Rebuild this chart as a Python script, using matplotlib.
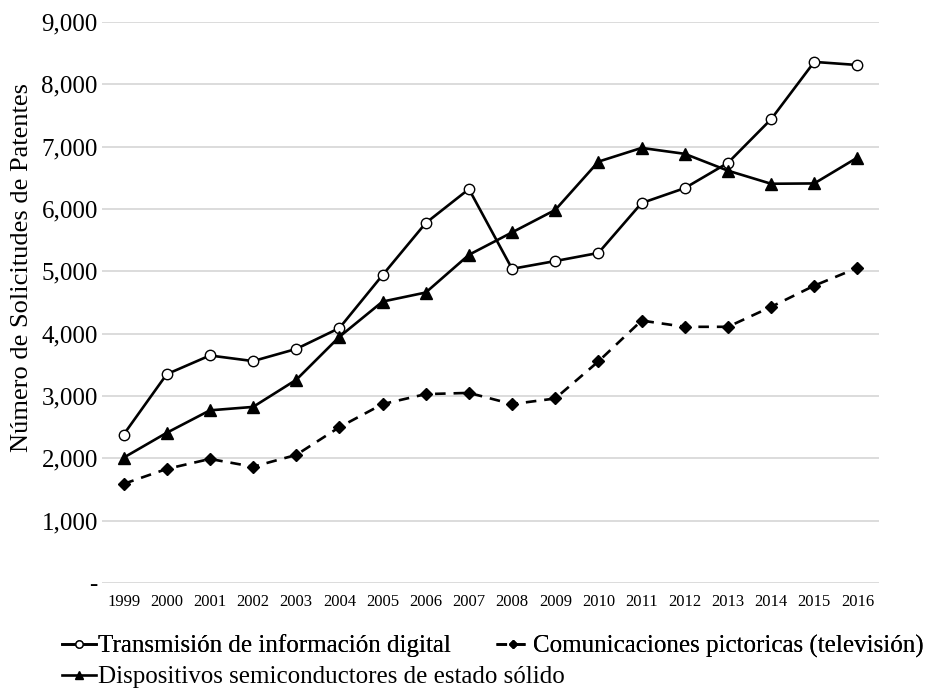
import matplotlib.pyplot as plt
from matplotlib.ticker import FuncFormatter

plt.rcParams["font.family"] = ["Liberation Serif", "DejaVu Serif"]

years = [1999, 2000, 2001, 2002, 2003, 2004, 2005, 2006, 2007,
         2008, 2009, 2010, 2011, 2012, 2013, 2014, 2015, 2016]

transmision = [2380, 3350, 3650, 3560, 3755, 4090, 4940, 5775, 6320,
               5040, 5165, 5295, 6095, 6335, 6740, 7440, 8360, 8310]

semiconductores = [2010, 2410, 2770, 2825, 3260, 3950, 4515, 4660, 5265,
                   5625, 5985, 6760, 6980, 6885, 6615, 6405, 6410, 6825]

television = [1590, 1830, 1990, 1865, 2055, 2500, 2870, 3030, 3050,
              2870, 2960, 3555, 4210, 4110, 4110, 4430, 4770, 5055]

labels = ["Transmisión de información digital",
          "Dispositivos semiconductores de estado sólido",
          "Comunicaciones pictoricas (televisión)"]

fig = plt.figure(figsize=(9.34, 6.91), dpi=100)
ax = fig.add_axes([102 / 934, 108 / 691, 777 / 934, 561 / 691])

x = list(range(len(years)))
l1, = ax.plot(x, transmision, color="black", linewidth=1.9, marker="o",
              markersize=7.5, markerfacecolor="white", markeredgecolor="black",
              markeredgewidth=1.0)
l2, = ax.plot(x, semiconductores, color="black", linewidth=1.9, marker="^",
              markersize=9)
l3, = ax.plot(x, television, color="black", linewidth=1.9, marker="D",
              markersize=6, linestyle=(0, (4, 3)))

ax.set_xlim(-0.5, len(years) - 0.5)
ax.set_ylim(0, 9000)
ax.set_yticks(range(0, 9001, 1000))
ax.yaxis.set_major_formatter(
    FuncFormatter(lambda v, p: "-" if v == 0 else f"{int(v):,}"))
ax.set_xticks(x)
ax.set_xticklabels([str(y) for y in years], fontsize=12)
ax.tick_params(axis="y", labelsize=18, length=0, pad=3)
ax.tick_params(axis="x", length=0, pad=8)
ax.grid(axis="y", color="#d9d9d9", linewidth=1.3)
ax.set_axisbelow(True)
for s in ax.spines.values():
    s.set_visible(False)

fig.text(22 / 934, 1 - 268 / 691, "Número de Solicitudes de Patentes",
         rotation=90, ha="center", va="center", fontsize=19)

common = dict(loc="center left", frameon=False, fontsize=18,
              handlelength=1.36, handletextpad=0.1, borderaxespad=0,
              borderpad=0, markerscale=0.7)
leg1 = fig.legend([l1, l3], [labels[0], labels[2]], ncol=2,
                  bbox_to_anchor=(62 / 934, 1 - 646 / 691),
                  columnspacing=1.8, **common)
fig.add_artist(leg1)
fig.legend([l2], [labels[1]], bbox_to_anchor=(62 / 934, 1 - 677 / 691),
           **common)

fig.savefig("out.png", dpi=100)
